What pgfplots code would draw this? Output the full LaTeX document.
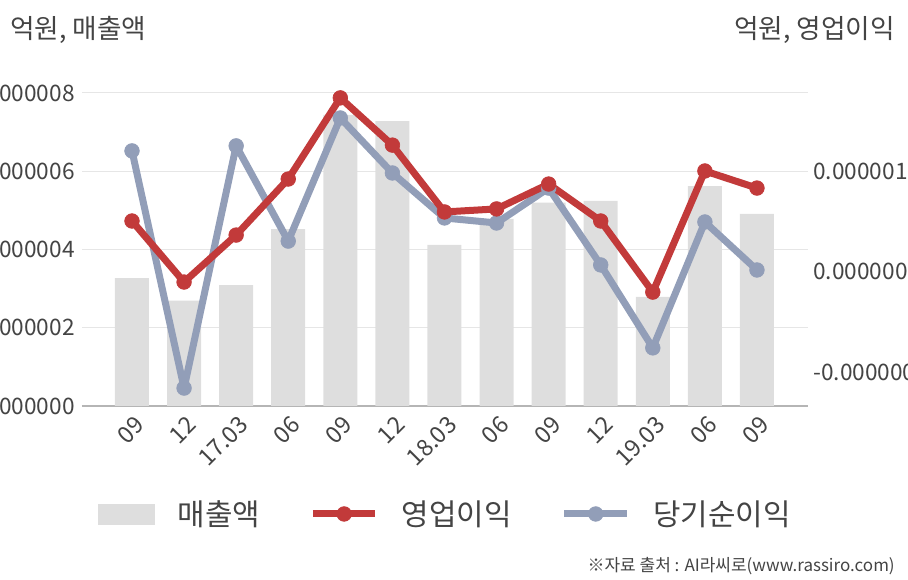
\documentclass[border=0pt]{standalone}
\usepackage{pgfplots}
\pgfplotsset{compat=1.18}
\usepackage{pgfplotstable}
\usepackage{fontspec}
\setmainfont{Noto Sans CJK KR}
\definecolor{barc}{HTML}{DEDEDE}
\definecolor{redc}{HTML}{C23A3A}
\definecolor{bluec}{HTML}{929EB8}
\definecolor{gridc}{HTML}{E6E6E6}
\definecolor{axisc}{HTML}{B5B5B5}
\definecolor{txtc}{HTML}{444444}

\pgfplotstableread{
x sales
0 3.27
1 2.69
2 3.09
3 4.52
4 7.44
5 7.28
6 4.12
7 4.78
8 5.20
9 5.24
10 2.79
11 5.62
12 4.91
}\sales

\pgfplotstableread{
x op net
0 0.401 0.680
1 0.158 -0.264
2 0.345 0.700
3 0.568 0.321
4 0.891 0.811
5 0.703 0.592
6 0.437 0.413
7 0.449 0.393
8 0.548 0.532
9 0.401 0.226
10 0.118 -0.104
11 0.600 0.397
12 0.532 0.206
}\profit

\pgfplotsset{
  common/.style={
    scale only axis, width=544.5pt, height=234.75pt,
    at={(61.5pt,130.5pt)}, anchor=south west,
    xmin=-0.96, xmax=12.98,
    major tick length=0pt,
    /pgf/number format/assume math mode=true,
    tick label style={font=\fontsize{17}{20}\selectfont, text=txtc},
  },
  redline/.style={color=redc, line width=5.25pt, line join=round, mark=*, mark size=5.5pt, mark options={solid, line width=0.5pt, fill=redc, draw=redc}},
  blueline/.style={color=bluec, line width=5.25pt, line join=round, mark=*, mark size=5.5pt, mark options={solid, line width=0.5pt, fill=bluec, draw=bluec}},
}

\begin{document}
\begin{tikzpicture}
\useasboundingbox (0,0) rectangle (681pt,435pt);
\clip (0,0) rectangle (681pt,435pt);

\begin{axis}[common,
  ymin=0, ymax=8,
  axis x line*=bottom, axis y line*=left,
  y axis line style={draw=none},
  x axis line style={color=axisc, line width=1.1pt},
  xtick={0,...,12},
  xticklabels={09,12,17.03,06,09,12,18.03,06,09,12,19.03,06,09},
  xticklabel style={xshift=6pt, yshift=-11pt, rotate=45, anchor=east, inner sep=0pt, font=\fontsize{17.5}{20}\selectfont},
  ytick={0,2,4,6,8},
  yticklabels={0.000000,0.000002,0.000004,0.000006,0.000008},
  yticklabel style={anchor=east, inner sep=0pt, xshift=-5.25pt},
  ymajorgrids, grid style={color=gridc, line width=0.75pt},
]
\addplot[ybar, bar width=25.5pt, fill=barc, draw=none] table[x=x, y=sales] {\sales};
\end{axis}

\begin{axis}[common,
  ymin=-0.3353, ymax=0.9104,
  axis x line=none, axis y line*=right,
  y axis line style={draw=none},
  ytick={-0.2,0.2,0.6},
  yticklabels={-0.000000,0.000000,0.000001},
  yticklabel style={anchor=west, inner sep=0pt, xshift=3.75pt},
  legend columns=3,
  legend style={at={(0.4993,-0.345)}, anchor=center, draw=none, fill=none,
    font=\fontsize{22.4}{26}\selectfont, text=txtc,
    nodes={inner sep=0pt},
    /tikz/every odd column/.append style={column sep=17pt},
    /tikz/every even column/.append style={column sep=37pt}},
  legend image code/.code={\draw[mark repeat=2,mark phase=2,#1] plot coordinates {(0pt,0pt)(23.5pt,0pt)(47pt,0pt)};},
]
\addlegendimage{legend image code/.code={\fill[barc] (0pt,-7.5pt) rectangle (42pt,7.5pt);}}
\addlegendimage{redline}
\addlegendimage{blueline}
\legend{매출액,영업이익,당기순이익}
\addplot[blueline, forget plot] table[x=x, y=net] {\profit};
\addplot[redline, forget plot] table[x=x, y=op] {\profit};
\end{axis}

\node[anchor=west, text=txtc, font=\fontsize{20}{24}\selectfont, inner sep=0pt] at (7.5pt,412.5pt) {억원, 매출액};
\node[anchor=east, text=txtc, font=\fontsize{20}{24}\selectfont, inner sep=0pt] at (671.25pt,412.5pt) {억원, 영업이익};
\node[anchor=east, text=txtc, font=\fontsize{12.75}{15}\selectfont, inner sep=0pt] at (671.25pt,10.5pt) {※자료 출처 : AI라씨로(www.rassiro.com)};
\end{tikzpicture}
\end{document}
